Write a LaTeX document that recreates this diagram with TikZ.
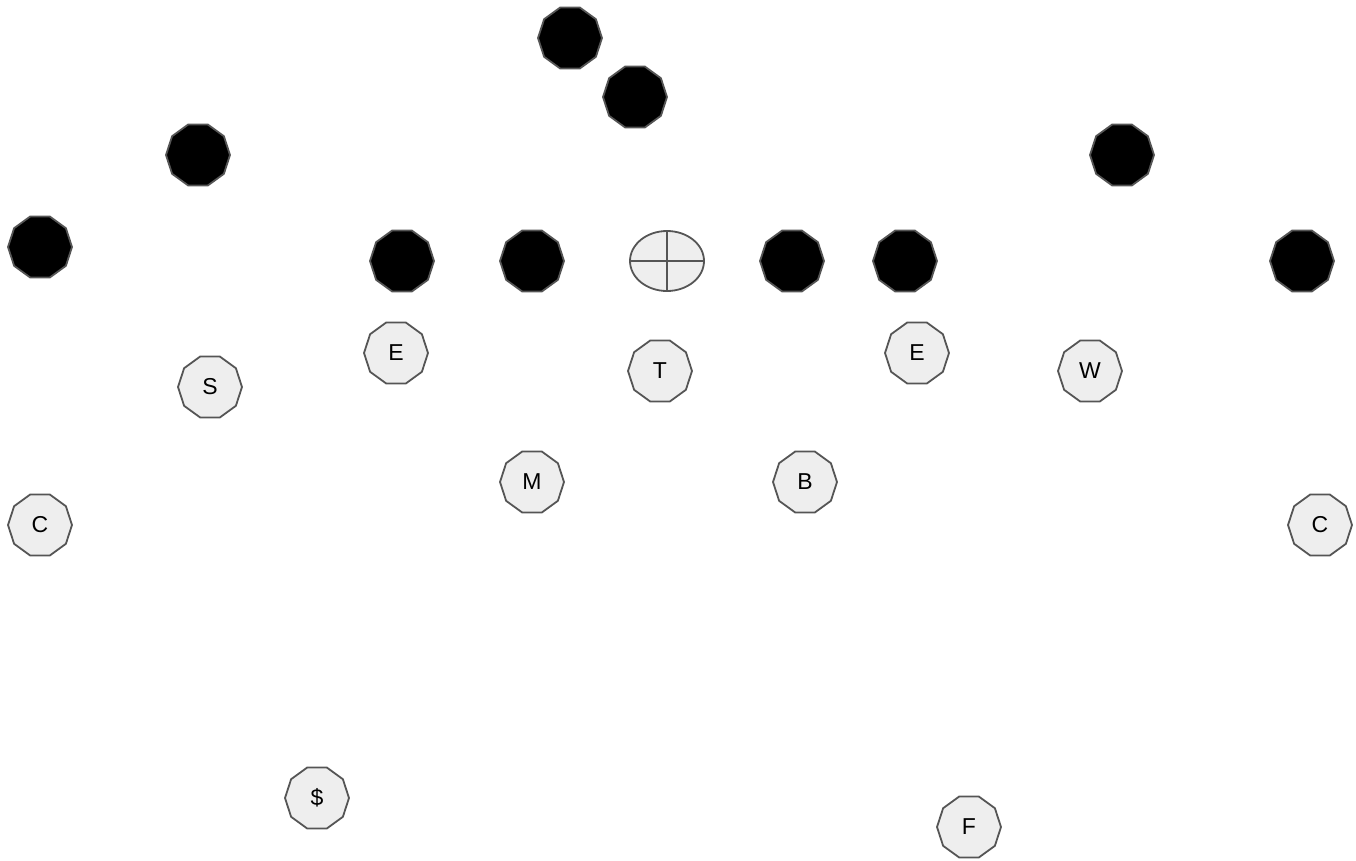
\documentclass[tikz,border=0pt]{standalone}
\usepackage{fontspec}
\setmainfont{Liberation Sans}
\usetikzlibrary{shapes.geometric}
\definecolor{rimgray}{HTML}{555555}
\definecolor{fillgray}{HTML}{EEEEEE}

\begin{document}
\begin{tikzpicture}[x=1pt,y=-1pt,
deca/.style={regular polygon,regular polygon sides=10,minimum size=64pt,inner sep=0pt,draw=rimgray,line width=1.8pt},
off/.style={deca,fill=black},
def/.style={deca,fill=fillgray,font=\fontsize{23}{27}\selectfont},
ball/.style={ellipse,draw=rimgray,fill=fillgray,line width=1.8pt,minimum width=74pt,minimum height=60pt,inner sep=0pt}]
\useasboundingbox (0,0) rectangle (1356,860);
% offense
\node[off] (o1) at (570,38) {};
\node[off] (o2) at (635,97) {};
\node[off] (o3) at (198,155) {};
\node[off] (o4) at (1122,155) {};
\node[off] (o5) at (40,247) {};
\node[off] (o6) at (402,261) {};
\node[off] (o7) at (532,261) {};
\node[ball] (fb) at (667,261) {};
\draw[rimgray,line width=1.8pt] (fb.north)--(fb.south) (fb.west)--(fb.east);
\node[off] (o8) at (792,261) {};
\node[off] (o9) at (905,261) {};
\node[off] (o10) at (1302,261) {};
% defense
\node[def] (le) at (396,353) {E};
\node[def] (s) at (210,387) {S};
\node[def] (t) at (660,371) {T};
\node[def] (re) at (917,353) {E};
\node[def] (w) at (1090,371) {W};
\node[def] (m) at (532,482) {M};
\node[def] (b) at (805,482) {B};
\node[def] (lc) at (40,525) {C};
\node[def] (rc) at (1320,525) {C};
\node[def] (ss) at (317,798) {\$};
\node[def] (f) at (969,827) {F};
\end{tikzpicture}
\end{document}
